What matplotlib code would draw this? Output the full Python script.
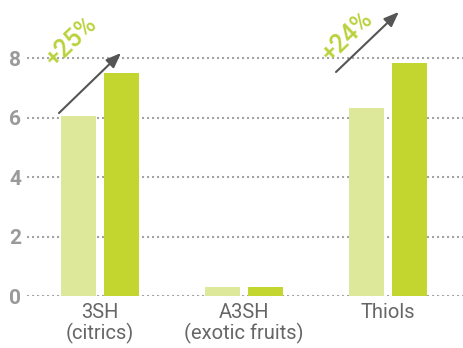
import matplotlib
matplotlib.use("Agg")
from matplotlib import pyplot as plt
import numpy as np

categories = ["3SH\n(citrics)", "A3SH\n(exotic fruits)", "Thiols"]
before = [6.05, 0.3, 6.32]
after = [7.5, 0.3, 7.83]
yticks = [0, 2, 4, 6, 8]
increase_labels = ["+25%", "+24%"]

light = "#dde89b"
lime = "#c2d62f"
grey = "#9a9a9a"

plt.rcParams["font.family"] = ["Roboto", "DejaVu Sans"]

fig = plt.figure(figsize=(4.64, 3.48), dpi=100)
ax = fig.add_axes([27 / 464, 52 / 348, 437 / 464, 296 / 348])

x = np.arange(len(categories))
w = 0.243
off = 0.149

for t in yticks:
    ax.axhline(t, color="#a4a4a4", lw=1.5, ls=(0, (1, 1.4)), zorder=0)

ax.bar(x - off, before, w, color=light, zorder=2)
ax.bar(x + off, after, w, color=lime, zorder=2)

ax.set_xlim(-0.507, 2.528)
ax.set_ylim(0, 9.95)
ax.set_yticks(yticks)
ax.set_yticklabels([str(t) for t in yticks], fontsize=15, fontweight="bold",
                   color=grey)
ax.tick_params(axis="y", length=0, pad=4)
ax.set_xticks(x)
ax.set_xticklabels(categories, fontsize=14.5, color="#666666", linespacing=1.05)
ax.tick_params(axis="x", length=0, pad=5)
for s in ax.spines.values():
    s.set_visible(False)

# growth arrows from the light bar to above the dark bar
arrows = [((-0.285, 6.15), (0.146, 8.17)), ((1.639, 7.53), (2.076, 9.55))]
text_pos = [(-0.2, 8.55), (1.715, 8.7)]
for (start, end), pos, lab in zip(arrows, text_pos, increase_labels):
    ax.annotate("", xy=end, xytext=start, annotation_clip=False,
                arrowprops=dict(arrowstyle="-|>,head_length=0.9,head_width=0.35",
                                color="#555555", lw=1.5, shrinkA=0, shrinkB=0))
    ax.text(pos[0], pos[1], lab, rotation=44, fontsize=18, fontweight="medium",
            color="#b9d13a", ha="center", va="center", rotation_mode="anchor")

fig.savefig("out.png", dpi=100)
